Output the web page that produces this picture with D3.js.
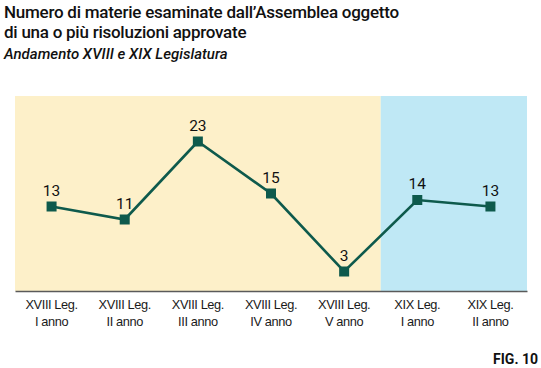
<!DOCTYPE html>
<html><head><meta charset="utf-8">
<script src="https://cdn.jsdelivr.net/npm/d3@7"></script>
<style>
body{margin:0;background:#fff;}
svg{display:block;font-family:Roboto,"Noto Sans",sans-serif;}
</style></head>
<body>
<svg id="c" width="541" height="368"></svg>
<script>
const categories = ["XVIII Leg.|I anno","XVIII Leg.|II anno","XVIII Leg.|III anno","XVIII Leg.|IV anno","XVIII Leg.|V anno","XIX Leg.|I anno","XIX Leg.|II anno"];
const values = [13, 11, 23, 15, 3, 14, 13];
const periods = [
  {name:"XVIII", from:0, to:4, color:"#fdf0c9"},
  {name:"XIX", from:5, to:6, color:"#bfe8f5"}
];
const yDomain = [0, 30];

(function(){
const svg = d3.select("#c");
const mLeft = 15, mRight = 527, mTop = 96, mBottom = 291;
const x = d3.scaleBand().domain(categories).range([mLeft, mRight]).padding(0);
const y = d3.scaleLinear().domain(yDomain).range([mBottom, mTop]);

periods.forEach(p => {
  const x0 = x(categories[p.from]);
  const x1 = x(categories[p.to]) + x.bandwidth();
  svg.append("rect").attr("x", x0).attr("y", y(yDomain[1])).attr("width", x1 - x0)
    .attr("height", y(yDomain[0]) - y(yDomain[1])).attr("fill", p.color);
});

const axis = d3.axisBottom(x).tickSize(0).tickFormat("");
const g = svg.append("g").attr("transform", `translate(0,${mBottom})`).call(axis);
g.select(".domain").attr("stroke", "#5a5a5a").attr("stroke-width", 1.6);
g.selectAll(".tick").each(function(d){
  const t = d3.select(this).append("text").attr("fill", "#1a1a1a")
    .attr("font-size", 12.8).attr("text-anchor", "middle").attr("letter-spacing", "-0.4");
  d.split("|").forEach((s,i)=>{
    t.append("tspan").attr("x", 0).attr("y", i===0 ? 18 : 35).text(s);
  });
});

const cx = d => x(d) + x.bandwidth()/2;
const line = d3.line().x((d,i)=>cx(categories[i])).y(d=>y(d));
svg.append("path").datum(values).attr("d", line).attr("fill","none")
  .attr("stroke","#0e5a4c").attr("stroke-width",2.6).attr("stroke-linejoin","miter");

svg.selectAll("rect.m").data(values).join("rect").attr("class","m")
  .attr("x",(d,i)=>cx(categories[i])-5).attr("y",d=>y(d)-5)
  .attr("width",10).attr("height",10).attr("fill","#0e5a4c");

svg.selectAll("text.v").data(values).join("text").attr("class","v")
  .attr("x",(d,i)=>cx(categories[i])).attr("y",d=>y(d)-11)
  .attr("text-anchor","middle").attr("font-size",15.5).attr("fill","#111").text(d=>d);

svg.append("text").attr("x",4).attr("y",18).attr("font-size",17).attr("font-weight",500)
  .attr("fill","#111").attr("letter-spacing","-0.25").text("Numero di materie esaminate dall’Assemblea oggetto");
svg.append("text").attr("x",4).attr("y",38).attr("font-size",17).attr("font-weight",500)
  .attr("fill","#111").attr("letter-spacing","-0.25").text("di una o più risoluzioni approvate");
svg.append("text").attr("x",4).attr("y",59).attr("font-size",15).attr("font-weight",500)
  .attr("font-style","italic").attr("fill","#111").text("Andamento XVIII e XIX Legislatura");
svg.append("text").attr("x",538).attr("y",364).attr("font-size",14).attr("font-weight",700)
  .attr("text-anchor","end").attr("fill","#111").text("FIG. 10");
})();
</script>
</body></html>
